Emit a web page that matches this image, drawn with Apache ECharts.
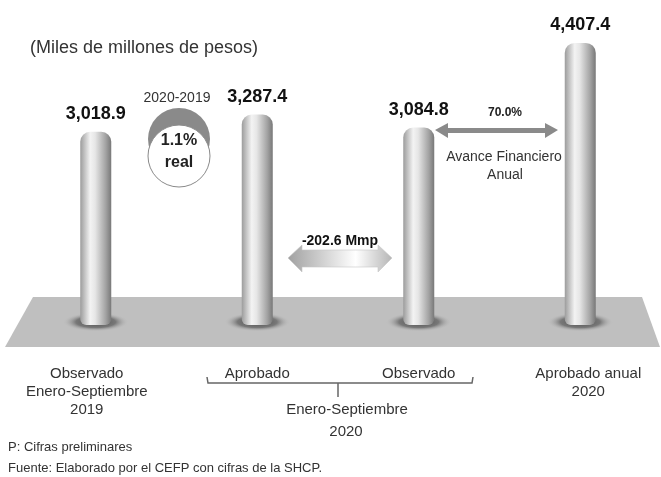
<!DOCTYPE html>
<html>
<head>
<meta charset="utf-8">
<script src="https://cdn.jsdelivr.net/npm/echarts@6/dist/echarts.min.js"></script>
<style>
html,body{margin:0;padding:0;background:#fff;}
#main{width:661px;height:477px;}
</style>
</head>
<body>
<div id="main"></div>
<script>
// categorias del eje x
var categorias = ['Observado\nEnero-Septiembre\n2019', 'Aprobado', 'Observado', 'Aprobado anual\n2020'];
// gasto en miles de millones de pesos
var valores = [3018.9, 3287.4, 3084.8, 4407.4];
// base de las sombras (una por columna)
var sombras = [0, 0, 0, 0];

var fuente = 'Liberation Sans, Arial, sans-serif';
var myChart = echarts.init(document.getElementById('main'));

// degradado horizontal para simular el cilindro
var colorCilindro = new echarts.graphic.LinearGradient(0, 0, 1, 0, [
	{offset: 0, color: '#9c9c9c'},
	{offset: 0.32, color: '#f3f3f3'},
	{offset: 0.48, color: '#e6e6e6'},
	{offset: 0.82, color: '#a3a3a3'},
	{offset: 1, color: '#787878'}
]);

// etiquetas del eje, la primera y la ultima algo desplazadas
var etiquetas = [];
for (var i = 0; i < categorias.length; i++) {
	var item = {value: categorias[i]};
	if (i == 0) {
		item.textStyle = {padding: [0, 18, 0, 0]};
	} else if (i == categorias.length - 1) {
		item.textStyle = {padding: [0, 0, 0, 16]};
	}
	etiquetas.push(item);
}

var option = {
	animation: false,
	backgroundColor: '#fff',
	textStyle: {fontFamily: fuente},
	grid: {left: 15, width: 647, top: 5, bottom: 152},
	xAxis: {
		type: 'category',
		data: etiquetas,
		axisLine: {show: false},
		axisTick: {show: false},
		axisLabel: {
			margin: 40,
			fontSize: 15,
			lineHeight: 18,
			color: '#333',
			fontFamily: fuente
		}
	},
	yAxis: {
		type: 'value',
		min: 0,
		max: 5000,
		show: false,
		splitLine: {show: false}
	},
	graphic: [
		// plataforma gris
		{
			type: 'polygon',
			z: -10,
			shape: {points: [[33, 297], [642, 297], [660, 347], [5, 347]]},
			style: {fill: '#bfbfbf'}
		},
		// titulo
		{
			type: 'text', left: 30, top: 39,
			style: {text: '(Miles de millones de pesos)', font: '18px ' + fuente, fill: '#333'}
		},
		// circulo 2020-2019
		{
			type: 'text', x: 177, y: 98,
			style: {text: '2020-2019', font: '14px ' + fuente, fill: '#333', align: 'center', verticalAlign: 'middle'}
		},
		{
			type: 'circle', shape: {cx: 179, cy: 139, r: 31},
			style: {fill: '#8a8a8a'}
		},
		{
			type: 'circle', shape: {cx: 179, cy: 156, r: 31},
			style: {fill: '#fff', stroke: '#8a8a8a', lineWidth: 1}
		},
		{
			type: 'text', x: 179, y: 141,
			style: {text: '1.1%', font: 'bold 16px ' + fuente, fill: '#222', align: 'center', verticalAlign: 'middle'}
		},
		{
			type: 'text', x: 179, y: 163,
			style: {text: 'real', font: 'bold 16px ' + fuente, fill: '#222', align: 'center', verticalAlign: 'middle'}
		},
		// flecha -202.6 Mmp
		{
			type: 'polygon',
			shape: {points: [[288, 258], [302, 245], [302, 250], [378, 250], [378, 245], [392, 258], [378, 272], [378, 267], [302, 267], [302, 272]]},
			style: {
				fill: new echarts.graphic.LinearGradient(0, 0, 1, 0, [
					{offset: 0, color: '#a0a0a0'},
					{offset: 0.65, color: '#ffffff'},
					{offset: 1, color: '#b5b5b5'}
				]),
				stroke: '#c8c8c8', lineWidth: 0.6
			}
		},
		{
			type: 'text', x: 340, y: 241,
			style: {text: '-202.6 Mmp', font: 'bold 14px ' + fuente, fill: '#111', align: 'center', verticalAlign: 'middle'}
		},
		// flecha 70.0%
		{
			type: 'polygon',
			shape: {points: [[435, 130], [448, 123], [448, 128], [545, 128], [545, 123], [558, 130], [545, 138], [545, 133], [448, 133], [448, 138]]},
			style: {fill: '#8a8a8a'}
		},
		{
			type: 'text', x: 505, y: 113,
			style: {text: '70.0%', font: 'bold 12px ' + fuente, fill: '#222', align: 'center', verticalAlign: 'middle'}
		},
		{
			type: 'text', x: 504, y: 157,
			style: {text: 'Avance Financiero', font: '14px ' + fuente, fill: '#333', align: 'center', verticalAlign: 'middle'}
		},
		{
			type: 'text', x: 505, y: 175,
			style: {text: 'Anual', font: '14px ' + fuente, fill: '#333', align: 'center', verticalAlign: 'middle'}
		},
		// llave Enero-Septiembre 2020
		{
			type: 'polyline',
			shape: {points: [[207, 377], [208, 383], [472, 383], [473, 377]]},
			style: {stroke: '#666', lineWidth: 1.5, fill: null}
		},
		{
			type: 'line',
			shape: {x1: 338, y1: 383, x2: 338, y2: 397},
			style: {stroke: '#666', lineWidth: 1.5}
		},
		{
			type: 'text', x: 347, y: 410,
			style: {text: 'Enero-Septiembre', font: '15px ' + fuente, fill: '#333', align: 'center', verticalAlign: 'middle'}
		},
		{
			type: 'text', x: 346, y: 432,
			style: {text: '2020', font: '15px ' + fuente, fill: '#333', align: 'center', verticalAlign: 'middle'}
		},
		// notas
		{
			type: 'text', left: 8, top: 441,
			style: {text: 'P: Cifras preliminares', font: '13px ' + fuente, fill: '#333'}
		},
		{
			type: 'text', left: 8, top: 462,
			style: {text: 'Fuente: Elaborado por el CEFP con cifras de la SHCP.', font: '13px ' + fuente, fill: '#333'}
		}
	],
	series: [
		{
			// sombra en la base de cada columna
			type: 'scatter',
			data: sombras,
			z: 1,
			clip: false,
			silent: true,
			symbol: 'circle',
			symbolSize: [66, 19],
			symbolOffset: [0, -3],
			itemStyle: {
				color: new echarts.graphic.RadialGradient(0.5, 0.5, 0.5, [
					{offset: 0, color: '#333333'},
					{offset: 0.6, color: '#666666'},
					{offset: 1, color: 'rgba(191,191,191,0)'}
				])
			}
		},
		{
			type: 'bar',
			data: valores,
			z: 3,
			barWidth: 31,
			itemStyle: {
				color: colorCilindro,
				borderRadius: [10, 10, 6, 6]
			},
			label: {
				show: true,
				position: 'top',
				distance: 9,
				fontSize: 18,
				fontWeight: 'bold',
				color: '#111',
				fontFamily: fuente,
				formatter: function (p) {
					return p.value.toLocaleString('en-US', {minimumFractionDigits: 1, maximumFractionDigits: 1});
				}
			}
		}
	]
};
myChart.setOption(option);
</script>
</body>
</html>
